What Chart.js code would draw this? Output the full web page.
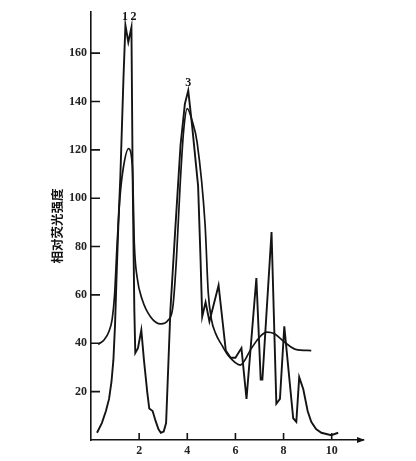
<!DOCTYPE html>
<html>
<head>
<meta charset="utf-8">
<script src="https://cdn.jsdelivr.net/npm/chart.js@4.4.1/dist/chart.umd.min.js"></script>
<style>
  html, body { margin: 0; padding: 0; background: #fff; }
  #wrap { width: 416px; height: 461px; }
</style>
</head>
<body>
<div id="wrap"><canvas id="c"></canvas></div>
<script>
// spiky trace (resolved peaks)
const spikyX = [0.25, 0.45, 0.62, 0.75, 0.85, 0.93, 1.0, 1.06, 1.14, 1.22, 1.35, 1.43, 1.55, 1.68, 1.73, 1.8, 1.84, 1.95, 2.09, 2.2, 2.34, 2.42, 2.56, 2.68, 2.8, 2.9, 3.02, 3.12, 3.3, 3.5, 3.72, 3.9, 4.04, 4.2, 4.45, 4.55, 4.62, 4.76, 4.92, 5.3, 5.6, 5.8, 6.0, 6.25, 6.46, 6.87, 7.05, 7.12, 7.5, 7.7, 7.85, 8.03, 8.4, 8.53, 8.65, 8.82, 9.0, 9.15, 9.35, 9.57, 9.98, 10.27];
const spikyY = [3, 7, 12, 17, 24, 33, 48, 67, 90, 109, 150, 171.5, 164.5, 170.7, 109, 54, 36, 38, 45.5, 33, 19.5, 13, 12, 8, 4.5, 3, 3.5, 7, 54, 87, 122, 139, 144.5, 130, 105, 75, 51, 57, 49, 64, 37, 34, 34, 38, 17, 67, 25, 25, 86, 15, 17, 47, 9, 7.5, 26, 21, 12, 7.5, 4.5, 3, 2, 3];

// smooth trace (broad bands)
const smoothX = [0.3, 0.55, 0.75, 0.88, 0.98, 1.08, 1.2, 1.35, 1.56, 1.72, 1.8, 1.92, 2.13, 2.47, 2.9, 3.2, 3.4, 3.55, 3.7, 3.85, 4.0, 4.2, 4.41, 4.74, 4.87, 5.0, 5.18, 5.45, 5.7, 6.2, 6.67, 7.0, 7.3, 7.6, 8.1, 8.5, 9.15];
const smoothY = [39.5, 41.5, 45, 50, 60, 80, 100, 113, 120.5, 113, 81, 67, 58, 51, 48, 49.5, 55, 75, 105, 128, 137, 132, 123, 89, 61, 50, 44, 39, 35, 31, 38, 42.5, 44.6, 44, 40, 37.5, 37];

const xTicks = [2, 4, 6, 8, 10];
const yTicks = [20, 40, 60, 80, 100, 120, 140, 160];

const peakNames = ['1', '2', '3'];
const peakX = [1.41, 1.77, 4.04];
const peakY = [175, 175, 147.5];

const ink = '#141414';

const toPoints = (xs, ys) => xs.map((x, i) => ({ x: x, y: ys[i] }));

// inner tick marks, x-axis arrow and peak numbers
const decorations = {
  id: 'decorations',
  afterDraw(chart) {
    const ctx = chart.ctx;
    const xs = chart.scales.x, ys = chart.scales.y;
    const area = chart.chartArea;
    ctx.save();
    ctx.strokeStyle = ink;
    ctx.lineWidth = 1.6;
    ctx.beginPath();
    yTicks.forEach(v => {
      const py = ys.getPixelForValue(v);
      ctx.moveTo(area.left, py);
      ctx.lineTo(area.left + 9, py);
    });
    xTicks.forEach(v => {
      const px = xs.getPixelForValue(v);
      ctx.moveTo(px, area.bottom);
      ctx.lineTo(px, area.bottom - 7);
    });
    ctx.stroke();

    // arrow head on the x axis
    ctx.fillStyle = ink;
    ctx.beginPath();
    ctx.moveTo(area.right + 2, area.bottom);
    ctx.lineTo(area.right - 6, area.bottom - 3);
    ctx.lineTo(area.right - 6, area.bottom + 3);
    ctx.closePath();
    ctx.fill();

    ctx.font = 'bold 12px "Liberation Serif"';
    ctx.textAlign = 'center';
    ctx.textBaseline = 'middle';
    peakNames.forEach((t, i) => {
      ctx.fillText(t, xs.getPixelForValue(peakX[i]), ys.getPixelForValue(peakY[i]));
    });
    ctx.restore();
  }
};

new Chart(document.getElementById('c'), {
  type: 'line',
  data: {
    datasets: [{
      data: toPoints(spikyX, spikyY),
      borderColor: ink,
      borderWidth: 1.9,
      pointRadius: 0,
      tension: 0,
      fill: false
    }, {
      data: toPoints(smoothX, smoothY),
      borderColor: ink,
      borderWidth: 1.7,
      pointRadius: 0,
      cubicInterpolationMode: 'monotone',
      fill: false
    }]
  },
  options: {
    responsive: true,
    maintainAspectRatio: false,
    animation: false,
    layout: { padding: { left: 0, top: 12, right: 53, bottom: 0 } },
    plugins: {
      legend: { display: false },
      tooltip: { enabled: false }
    },
    scales: {
      x: {
        type: 'linear',
        min: 0,
        max: 11.3,
        afterBuildTicks: s => { s.ticks = xTicks.map(v => ({ value: v })); },
        afterFit: s => { s.height = 21; },
        grid: { display: true, drawOnChartArea: false, drawTicks: false },
        border: { display: true, color: ink, width: 1.6 },
        ticks: {
          padding: 4,
          color: '#222',
          font: { family: '"Liberation Serif"', size: 12, weight: 'bold' }
        }
      },
      y: {
        type: 'linear',
        min: 0,
        max: 177,
        afterBuildTicks: s => { s.ticks = yTicks.map(v => ({ value: v })); },
        afterFit: s => { s.width = 91; },
        grid: { display: true, drawOnChartArea: false, drawTicks: false },
        border: { display: true, color: ink, width: 1.6 },
        ticks: {
          padding: 4,
          color: '#222',
          font: { family: '"Liberation Serif"', size: 12, weight: 'bold' }
        },
        title: {
          display: true,
          text: '相对荧光强度',
          color: '#111',
          padding: { top: 50, bottom: 0 },
          font: { family: '"Noto Sans CJK SC"', size: 12.5, weight: 'bold' }
        }
      }
    }
  },
  plugins: [decorations]
});
</script>
</body>
</html>
